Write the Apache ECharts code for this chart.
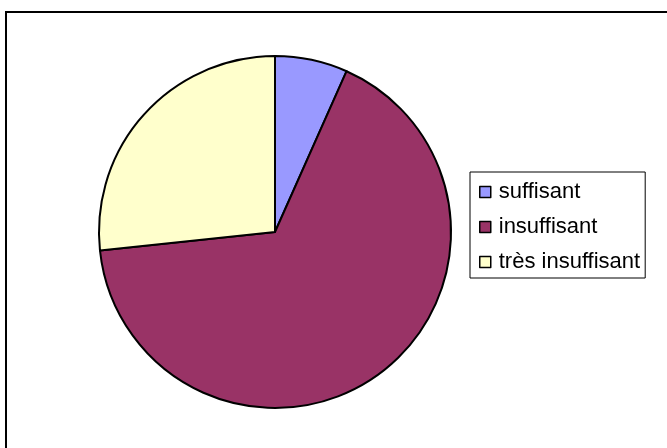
<!DOCTYPE html>
<html><head><meta charset="utf-8">
<script src="https://cdn.jsdelivr.net/npm/echarts@6/dist/echarts.min.js"></script>
<style>html,body{margin:0;padding:0;background:#fff}#c{width:667px;height:448px}</style>
</head><body><div id="c"></div>
<script>
const categories = ['suffisant', 'insuffisant', 'très insuffisant'];
const values = [1, 10, 4];
const colors = ['#9999FF', '#993366', '#FFFFCC'];

const chart = echarts.init(document.getElementById('c'), null, {renderer: 'canvas'});
chart.setOption({
  animation: false,
  backgroundColor: '#fff',
  graphic: [{
    type: 'rect', shape: {x: 6, y: 12, width: 700, height: 500},
    style: {fill: 'none', stroke: '#000', lineWidth: 2}, silent: true, z: 0
  }],
  legend: {
    orient: 'vertical', left: 470, top: 172,
    data: categories,
    icon: 'rect', itemWidth: 11, itemHeight: 11, itemGap: 13,
    padding: [9, 5, 5, 9],
    borderColor: '#000', borderWidth: 1,
    itemStyle: {borderColor: '#000', borderWidth: 1.5},
    textStyle: {fontFamily: 'Liberation Sans, Arial', fontSize: 22, color: '#000', padding: [0, 0, 0, 3]}
  },
  series: [{
    type: 'pie', center: [275, 232], radius: 176, startAngle: 90, clockwise: true,
    label: {show: false}, labelLine: {show: false},
    itemStyle: {borderColor: '#000', borderWidth: 2},
    emphasis: {disabled: true},
    data: categories.map((n, i) => ({name: n, value: values[i], itemStyle: {color: colors[i]}}))
  }]
});
</script></body></html>
